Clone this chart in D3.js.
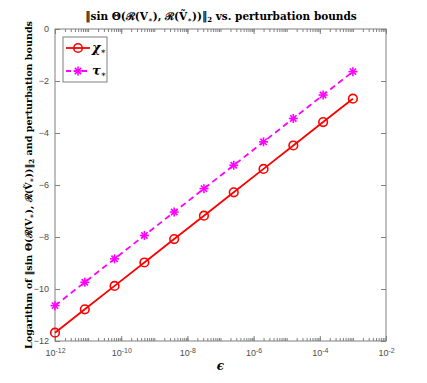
<!DOCTYPE html>
<html>
<head>
<meta charset="utf-8">
<script src="https://cdn.jsdelivr.net/npm/d3@7"></script>
<style>
  body { margin: 0; background: #fff; }
  .tick text { font-family: "Liberation Sans", Arial, sans-serif; font-size: 9px; fill: #4d4d4d; }
  .serif { font-family: "DejaVu Serif", "Liberation Serif", serif; font-weight: bold; fill: #000; }
</style>
</head>
<body>
<script>
// data (log10 of epsilon and log10 of the quantities)
var logEps = [-12, -11.1, -10.2, -9.3, -8.4, -7.5, -6.6, -5.7, -4.8, -3.9, -3];
var chiStar = [-11.68, -10.78, -9.88, -8.98, -8.08, -7.18, -6.28, -5.38, -4.48, -3.58, -2.68];
var tauStar = [-10.64, -9.74, -8.84, -7.94, -7.04, -6.14, -5.24, -4.34, -3.44, -2.54, -1.64];
var xMajor = [-12, -10, -8, -6, -4, -2];
var yTicks = [0, -2, -4, -6, -8, -10, -12];

// graph dimensions
var margin = {top: 29, right: 41, bottom: 42, left: 55},
    width = 427 - margin.left - margin.right,
    height = 383 - margin.top - margin.bottom;

var x = d3.scaleLog().domain([1e-12, 1e-2]).range([0, width]);
var y = d3.scaleLinear().domain([-12, 0]).range([height, 0]);

var svg = d3.select('body').append('svg')
    .attr('width', 427)
    .attr('height', 383);

var g = svg.append('g')
    .attr('transform', 'translate(' + margin.left + ',' + margin.top + ')');

// minor tick positions for the log axis
var minor = [];
for (var e = -12; e < -2; e++) {
  for (var k = 1; k < 10; k++) minor.push(k * Math.pow(10, e));
}
minor.push(1e-2);

function styleAxis(sel) {
  sel.select('.domain').remove();
  sel.selectAll('.tick line').attr('stroke', '#808080');
}

// bottom and top minor ticks
g.append('g').attr('transform', 'translate(0,' + height + ')')
  .call(d3.axisBottom(x).tickValues(minor).tickSize(-3).tickFormat(''))
  .call(styleAxis);
g.append('g')
  .call(d3.axisTop(x).tickValues(minor).tickSize(-3).tickFormat(''))
  .call(styleAxis);

// bottom major ticks with labels
var xAx = g.append('g').attr('transform', 'translate(0,' + height + ')')
  .call(d3.axisBottom(x).tickValues(xMajor.map(function(d) { return Math.pow(10, d); }))
    .tickSize(-5).tickPadding(9).tickFormat(''))
  .call(styleAxis);
xAx.selectAll('.tick text').each(function(d) {
  var t = d3.select(this);
  var ex = Math.round(Math.log10(d));
  t.append('tspan').text('10');
  t.append('tspan').attr('dy', '-0.45em').attr('font-size', '7px').text(ex);
});
g.append('g')
  .call(d3.axisTop(x).tickValues(xMajor.map(function(d) { return Math.pow(10, d); })).tickSize(-5).tickFormat(''))
  .call(styleAxis);

// y axes (left with labels, right plain)
g.append('g')
  .call(d3.axisLeft(y).tickValues(yTicks).tickSize(-5).tickPadding(6))
  .call(styleAxis);
g.append('g').attr('transform', 'translate(' + width + ',0)')
  .call(d3.axisRight(y).tickValues(yTicks).tickSize(-5).tickFormat(''))
  .call(styleAxis);

// frame
g.append('rect')
  .attr('width', width).attr('height', height)
  .attr('fill', 'none').attr('stroke', '#808080').attr('stroke-width', 1);

var line = function(vals) {
  return d3.line()
    .x(function(d, i) { return x(Math.pow(10, logEps[i])); })
    .y(function(d) { return y(d); })(vals);
};

// tau line (dashed magenta, star markers)
g.append('path').attr('d', line(tauStar))
  .attr('fill', 'none').attr('stroke', '#ff00ff').attr('stroke-width', 1.8)
  .attr('stroke-dasharray', '6,4');
function drawStar(sel, cx, cy, s) {
  var gg = sel.append('g').attr('transform', 'translate(' + cx + ',' + cy + ')')
    .attr('stroke', '#ff00ff').attr('stroke-width', 1.6);
  gg.append('line').attr('x1', -s).attr('x2', s).attr('y1', 0).attr('y2', 0);
  gg.append('line').attr('x1', 0).attr('x2', 0).attr('y1', -s).attr('y2', s);
  gg.append('line').attr('x1', -s * 0.7).attr('x2', s * 0.7).attr('y1', -s * 0.7).attr('y2', s * 0.7);
  gg.append('line').attr('x1', -s * 0.7).attr('x2', s * 0.7).attr('y1', s * 0.7).attr('y2', -s * 0.7);
}
tauStar.forEach(function(d, i) {
  drawStar(g, x(Math.pow(10, logEps[i])), y(d), 4.5);
});

// chi line (solid red, circle markers)
g.append('path').attr('d', line(chiStar))
  .attr('fill', 'none').attr('stroke', '#ff0000').attr('stroke-width', 1.8);
g.selectAll('circle.chi').data(chiStar).enter().append('circle')
  .attr('class', 'chi')
  .attr('cx', function(d, i) { return x(Math.pow(10, logEps[i])); })
  .attr('cy', function(d) { return y(d); })
  .attr('r', 4.3)
  .attr('fill', 'none').attr('stroke', '#ff0000').attr('stroke-width', 1.6);

// legend
var lg = g.append('g').attr('transform', 'translate(8,8)');
lg.append('rect').attr('width', 44).attr('height', 45)
  .attr('fill', '#fff').attr('stroke', '#808080');
lg.append('line').attr('x1', 3).attr('x2', 27).attr('y1', 11).attr('y2', 11)
  .attr('stroke', '#ff0000').attr('stroke-width', 1.8);
lg.append('circle').attr('cx', 15).attr('cy', 11).attr('r', 4.3)
  .attr('fill', 'none').attr('stroke', '#ff0000').attr('stroke-width', 1.6);
lg.append('line').attr('x1', 3).attr('x2', 27).attr('y1', 34).attr('y2', 34)
  .attr('stroke', '#ff00ff').attr('stroke-width', 1.8).attr('stroke-dasharray', '5,3');
drawStar(lg, 15, 34, 4.5);
var t1 = lg.append('text').attr('class', 'serif').attr('x', 29).attr('y', 15)
  .attr('font-size', '13px').attr('font-style', 'italic');
t1.append('tspan').text('χ');
t1.append('tspan').attr('font-size', '8px').attr('dy', '2').text('∗');
var t2 = lg.append('text').attr('class', 'serif').attr('x', 29).attr('y', 38)
  .attr('font-size', '13px').attr('font-style', 'italic');
t2.append('tspan').text('τ');
t2.append('tspan').attr('font-size', '8px').attr('dy', '2').text('∗');

// title and y label share the same math fragment
function mathText(sel, prefix, suffix) {
  sel.append('tspan').text(prefix + '‖sin Θ(ℛ(V');
  sel.append('tspan').attr('font-size', '7px').attr('dy', 2).text('∗');
  sel.append('tspan').attr('dy', -2).text('), ℛ(Ṽ');
  sel.append('tspan').attr('font-size', '7px').attr('dy', 2).text('∗');
  sel.append('tspan').attr('dy', -2).text('))‖');
  sel.append('tspan').attr('font-size', '7px').attr('dy', 2).text('2');
  sel.append('tspan').attr('dy', -2).text(suffix);
}

var title = svg.append('text').attr('class', 'serif')
  .attr('x', 221).attr('y', 20)
  .attr('text-anchor', 'middle').attr('font-size', '10.5px');
mathText(title, '', ' vs. perturbation bounds');

// axis titles
svg.append('text').attr('class', 'serif')
  .attr('x', margin.left + width / 2).attr('y', 370)
  .attr('text-anchor', 'middle').attr('font-size', '12px').attr('font-style', 'italic')
  .text('ϵ');

var yl = svg.append('text').attr('class', 'serif')
  .attr('text-anchor', 'middle').attr('font-size', '9.6px')
  .attr('transform', 'translate(32,' + (margin.top + height / 2) + ')rotate(-90)');
mathText(yl, 'Logarithm of ', ' and perturbation bounds');
</script>
</body>
</html>
